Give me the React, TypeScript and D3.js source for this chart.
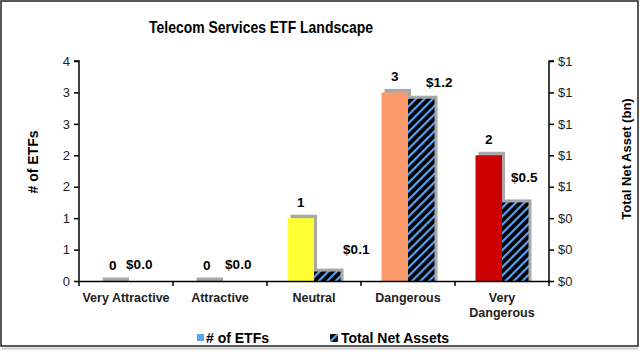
import React, { useEffect, useRef } from "react";
import * as d3 from "d3";

const categories = ["Very Attractive", "Attractive", "Neutral", "Dangerous", "Very Dangerous"];
const etfCounts = [0, 0, 1, 3, 2];
const netAssets = [0.0, 0.0, 0.06, 1.16, 0.5];
const assetLabels = ["$0.0", "$0.0", "$0.1", "$1.2", "$0.5"];
const countColors = ["#bdbdbd", "#bdbdbd", "#ffff33", "#fb9a6a", "#cc0000"];
const leftTicks = [0, 0.5, 1, 1.5, 2, 2.5, 3, 3.5];
const rightTicks = [0, 0.2, 0.4, 0.6, 0.8, 1.0, 1.2, 1.4];
// manual label nudges (dx, dy) as placed in the original
const assetLabelShift = [[0, 0], [5, 0], [29, -6], [18, 0], [9, -8]];

function App() {
  const ref = useRef<SVGSVGElement>(null);

  useEffect(() => {
    const W = 640, H = 352;
    const margin = { top: 61, right: 91, bottom: 71, left: 79 };
    const width = W - margin.left - margin.right;
    const height = H - margin.top - margin.bottom;
    const font = "'Liberation Sans', Arial, sans-serif";

    const svg = d3.select(ref.current);
    svg.selectAll("*").remove();

    const defs = svg.append("defs");
    const pat = defs.append("pattern")
      .attr("id", "hatch")
      .attr("patternUnits", "userSpaceOnUse")
      .attr("width", 6).attr("height", 6)
      .attr("patternTransform", "rotate(45)");
    pat.append("rect").attr("width", 6).attr("height", 6).attr("fill", "#000");
    pat.append("rect").attr("x", 0).attr("width", 2.2).attr("height", 6).attr("fill", "#5ba3f5");
    const blur = defs.append("filter").attr("id", "shadow").attr("x", "-20%").attr("y", "-20%").attr("width", "140%").attr("height", "140%");
    blur.append("feGaussianBlur").attr("stdDeviation", 0.6);

    svg.append("rect").attr("x", 0).attr("y", 0).attr("width", W).attr("height", H).attr("fill", "#fff");
    svg.append("rect").attr("x", 1).attr("y", 1).attr("width", 637).attr("height", 345)
      .attr("fill", "none").attr("stroke", "#222").attr("stroke-width", 1.5);
    svg.append("line").attr("x1", 2).attr("x2", 638).attr("y1", 348.5).attr("y2", 348.5)
      .attr("stroke", "#ccc").attr("stroke-width", 2);

    svg.append("text")
      .attr("x", 261).attr("y", 33)
      .attr("text-anchor", "middle")
      .attr("font-family", font).attr("font-weight", "bold").attr("font-size", 16.5)
      .attr("textLength", 224).attr("lengthAdjust", "spacingAndGlyphs")
      .text("Telecom Services ETF Landscape");

    const g = svg.append("g").attr("transform", `translate(${margin.left},${margin.top})`);

    const x = d3.scaleBand().domain(categories).range([0, width]);
    const yL = d3.scaleLinear().domain([0, 3.5]).range([height, 0]);
    const yR = d3.scaleLinear().domain([0, 1.4]).range([height, 0]);
    const barW = 26.5;

    // shadows
    categories.forEach((c, i) => {
      const cx = x(c)! + x.bandwidth() / 2;
      const hc = height - yL(etfCounts[i]);
      g.append("rect")
        .attr("x", cx - barW + 3).attr("y", yL(etfCounts[i]) - 3.5)
        .attr("width", barW).attr("height", hc + 3.5)
        .attr("fill", "#a8a8a8").attr("filter", "url(#shadow)");
      if (netAssets[i] > 0) {
        const ha = height - yR(netAssets[i]);
        g.append("rect")
          .attr("x", cx + 3).attr("y", yR(netAssets[i]) - 3)
          .attr("width", barW).attr("height", ha + 3)
          .attr("fill", "#a8a8a8").attr("filter", "url(#shadow)");
      }
    });

    g.selectAll("rect.count")
      .data(etfCounts)
      .enter()
      .append("rect")
      .attr("class", "count")
      .attr("x", (d, i) => x(categories[i])! + x.bandwidth() / 2 - barW)
      .attr("y", d => yL(d))
      .attr("width", barW)
      .attr("height", d => height - yL(d))
      .attr("fill", (d, i) => countColors[i]);

    g.selectAll("rect.asset")
      .data(netAssets)
      .enter()
      .append("rect")
      .attr("class", "asset")
      .attr("x", (d, i) => x(categories[i])! + x.bandwidth() / 2)
      .attr("y", d => yR(d))
      .attr("width", barW)
      .attr("height", d => height - yR(d))
      .attr("fill", "url(#hatch)");

    // axes
    const axL = g.append("g").call(d3.axisLeft(yL).tickValues(leftTicks).tickSize(5).tickFormat(d => String(Math.round(+d + 0.001))));
    const axR = g.append("g").attr("transform", `translate(${width},0)`)
      .call(d3.axisRight(yR).tickValues(rightTicks).tickSize(5).tickFormat(d => "$" + Math.round(+d + 0.001)));
    const axB = g.append("g").attr("transform", `translate(0,${height})`)
      .call(d3.axisBottom(x).tickSize(0).tickFormat(() => ""));
    [axL, axR, axB].forEach(a => {
      a.select(".domain").attr("stroke", "#000").attr("stroke-width", 1.5);
      a.selectAll("line").attr("stroke", "#000").attr("stroke-width", 1.5);
      a.selectAll("text").attr("font-family", font).attr("font-size", 13).attr("fill", "#222");
    });
    axL.select(".domain").attr("d", `M-5,0H0V${height}`);
    axR.select(".domain").attr("d", `M5,0H0V${height}`);
    axL.selectAll("text").attr("x", -9);
    axR.selectAll("text").attr("x", 9);

    // category ticks
    g.selectAll("line.cat")
      .data(d3.range(categories.length + 1))
      .enter()
      .append("line")
      .attr("x1", i => i * x.bandwidth()).attr("x2", i => i * x.bandwidth())
      .attr("y1", height).attr("y2", height + 5)
      .attr("stroke", "#000").attr("stroke-width", 1.5);

    // category labels
    categories.forEach((c, i) => {
      const cx = x(c)! + x.bandwidth() / 2;
      const lines = c === "Very Dangerous" ? ["Very", "Dangerous"] : [c];
      const t = g.append("text")
        .attr("text-anchor", "middle")
        .attr("font-family", font).attr("font-weight", "bold").attr("font-size", 12.5)
        .attr("fill", "#222");
      lines.forEach((l, k) => {
        t.append("tspan").attr("x", cx).attr("y", height + 21 + k * 14.5).text(l);
      });
    });

    // value labels
    categories.forEach((c, i) => {
      const cx = x(c)! + x.bandwidth() / 2;
      g.append("text")
        .attr("x", cx - barW / 2).attr("y", yL(etfCounts[i]) - 11)
        .attr("text-anchor", "middle")
        .attr("font-family", font).attr("font-weight", "bold").attr("font-size", 13.5)
        .text(etfCounts[i]);
      g.append("text")
        .attr("x", cx + barW / 2 + assetLabelShift[i][0])
        .attr("y", yR(netAssets[i]) - 12 + assetLabelShift[i][1])
        .attr("text-anchor", "middle")
        .attr("font-family", font).attr("font-weight", "bold").attr("font-size", 13.5)
        .text(assetLabels[i]);
    });

    // axis titles
    svg.append("text")
      .attr("transform", `translate(38,162) rotate(-90)`)
      .attr("text-anchor", "middle")
      .attr("font-family", font).attr("font-weight", "bold").attr("font-size", 14)
      .text("# of ETFs");
    svg.append("text")
      .attr("transform", `translate(631,159) rotate(-90)`)
      .attr("text-anchor", "middle")
      .attr("font-family", font).attr("font-weight", "bold").attr("font-size", 13)
      .text("Total Net Asset (bn)");

    // legend
    svg.append("rect").attr("x", 197).attr("y", 334).attr("width", 7).attr("height", 7).attr("fill", "#5ba3f5");
    svg.append("text").attr("x", 206).attr("y", 343)
      .attr("font-family", font).attr("font-weight", "bold").attr("font-size", 14)
      .text("# of ETFs");
    svg.append("rect").attr("x", 330).attr("y", 334).attr("width", 8).attr("height", 8).attr("fill", "url(#hatch)");
    svg.append("text").attr("x", 341).attr("y", 343)
      .attr("font-family", font).attr("font-weight", "bold").attr("font-size", 14)
      .text("Total Net Assets");
  }, []);

  return (
    <svg
      ref={ref}
      width={640}
      height={352}
      style={{ position: "absolute", left: 0, top: 0 }}
    />
  );
}

export default App;
